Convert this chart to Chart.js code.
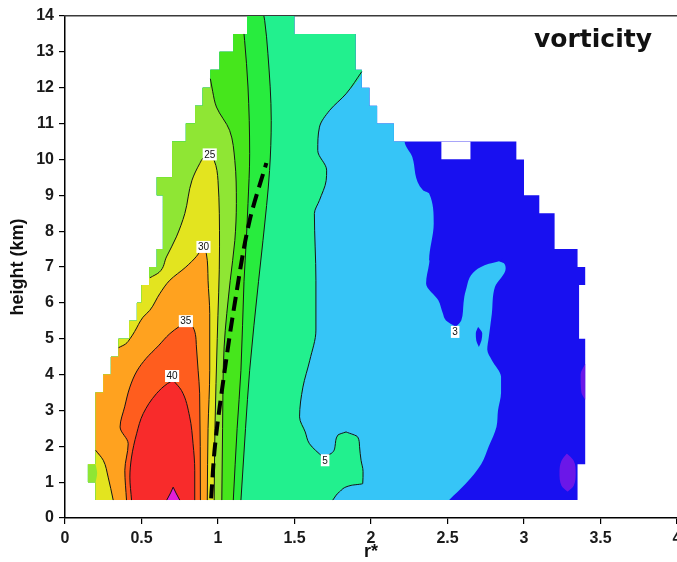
<!DOCTYPE html>
<html>
<head>
<meta charset="utf-8">
<title>vorticity</title>
<script src="https://cdn.jsdelivr.net/npm/chart.js@4.4.1/dist/chart.umd.min.js"></script>
<style>
  html, body { margin: 0; padding: 0; background: #fff; }
  #box { position: relative; width: 677px; height: 562px; }
</style>
</head>
<body>
<div id="box"><canvas id="vortChart"></canvas></div>
<script>
// every boundary below is a list of [height (km), r*] pairs

// stepped outline of the data domain
const edgeLeft = [
  [0.5, 0.20], [1.0, 0.20], [1.0, 0.15], [1.5, 0.15], [1.5, 0.20], [3.5, 0.20], [3.5, 0.25],
  [4.0, 0.25], [4.0, 0.30], [4.5, 0.30], [4.5, 0.35], [5.0, 0.35], [5.0, 0.42], [5.5, 0.42],
  [5.5, 0.47], [6.0, 0.47], [6.0, 0.50], [6.5, 0.50], [6.5, 0.55], [7.0, 0.55], [7.0, 0.60],
  [7.5, 0.60], [7.5, 0.64], [9.0, 0.64], [9.0, 0.60], [9.5, 0.60], [9.5, 0.70], [10.5, 0.70],
  [10.5, 0.79], [11.0, 0.79], [11.0, 0.85], [11.5, 0.85], [11.5, 0.90], [12.0, 0.90], [12.0, 0.95],
  [12.5, 0.95], [12.5, 1.01], [13.0, 1.01], [13.0, 1.10], [13.5, 1.10], [13.5, 1.19], [14.0, 1.19]
];
const edgeRight = [
  [0.5, 3.35], [1.5, 3.35], [1.5, 3.40], [5.0, 3.40], [5.0, 3.36], [6.5, 3.36], [6.5, 3.40],
  [7.0, 3.40], [7.0, 3.35], [7.5, 3.35], [7.5, 3.20], [8.5, 3.20], [8.5, 3.10], [9.0, 3.10],
  [9.0, 3.00], [10.0, 3.00], [10.0, 2.95], [10.5, 2.95], [10.5, 2.15], [11.0, 2.15], [11.0, 2.04],
  [11.5, 2.04], [11.5, 1.99], [12.0, 1.99], [12.0, 1.94], [12.5, 1.94], [12.5, 1.90], [13.5, 1.90],
  [13.5, 1.50], [14.0, 1.50]
];
const notchLeft = [[10.0, 2.46], [10.5, 2.46]];
const notchRight = [[10.0, 2.65], [10.5, 2.65]];

// below 1: purple spots at the outer edge
const c1SpotLeft = [[0.73, 3.285], [0.9, 3.245], [1.27, 3.232], [1.6, 3.245], [1.8, 3.28]];
const c1SpotRight = [[0.73, 3.285], [0.9, 3.325], [1.27, 3.338], [1.6, 3.325], [1.8, 3.28]];
const c1StripLeft = [[3.3, 3.40], [3.5, 3.375], [4.0, 3.37], [4.3, 3.40]];
const c1StripRight = [[3.3, 3.40], [4.3, 3.40]];

// 3 contour (drawn without a line)
const c3Low = [
  [0.5, 2.51], [0.96, 2.62], [1.5, 2.72], [2.0, 2.77], [2.54, 2.82], [3.0, 2.83], [3.5, 2.85],
  [3.93, 2.85], [4.4, 2.79], [4.7, 2.76], [5.05, 2.77], [5.7, 2.79], [6.44, 2.81], [6.95, 2.88],
  [7.1, 2.87], [7.18, 2.83]
];
const c3Up = [[7.18, 2.38], [8.21, 2.41], [9.05, 2.38], [9.14, 2.34], [10.07, 2.27], [10.5, 2.22]];
const c3BayLeft = [[5.33, 2.555], [5.51, 2.49], [5.7, 2.47], [6.07, 2.44], [6.54, 2.36], [7.09, 2.38], [7.25, 2.385]];
const c3BayRight = [[5.33, 2.555], [5.51, 2.59], [6.0, 2.605], [6.35, 2.62], [6.91, 2.685], [7.09, 2.77], [7.17, 2.84], [7.25, 2.86]];
const c3IsleLeft = [[4.77, 2.705], [4.95, 2.688], [5.15, 2.685], [5.33, 2.70]];
const c3IsleRight = [[4.77, 2.705], [4.95, 2.722], [5.15, 2.727], [5.33, 2.70]];

// 5 contour
const c5Main = [
  [1.7, 1.685], [2.07, 1.598], [2.4, 1.57], [2.82, 1.533], [3.65, 1.555], [4.4, 1.60], [5.24, 1.64],
  [6.63, 1.64], [8.49, 1.63], [8.86, 1.663], [9.41, 1.707], [9.7, 1.71], [10.25, 1.652], [10.9, 1.663],
  [11.37, 1.73], [11.83, 1.837], [12.45, 1.94]
];
const c5Tongue = [
  [0.5, 1.75], [0.73, 1.794], [0.91, 1.87], [0.96, 1.946], [1.3, 1.948], [1.61, 1.935], [2.0, 1.925],
  [2.26, 1.913], [2.4, 1.837]
];
const c5Lobe = [[1.7, 1.685], [1.8, 1.74], [2.0, 1.765], [2.31, 1.783], [2.4, 1.837]];

// 10, 15, 20 contours
const c10 = [[0.5, 1.15], [2.5, 1.18], [4.12, 1.207], [6.6, 1.265], [7.74, 1.294], [9.69, 1.337], [11.09, 1.348], [12.96, 1.326], [13.88, 1.305], [14.0, 1.30]];
const c15 = [[0.5, 1.10], [2.5, 1.125], [4.12, 1.15], [6.6, 1.17], [7.74, 1.185], [8.77, 1.196], [10.16, 1.207], [12.02, 1.196], [13.32, 1.174], [13.5, 1.17]];
const c20 = [[0.5, 1.025], [2.5, 1.03], [4.77, 1.04], [6.63, 1.08], [7.74, 1.11], [8.77, 1.12], [9.97, 1.11], [10.81, 1.076], [11.46, 0.99], [11.9, 0.965], [12.25, 0.95]];
const c20PatchLeft = [[1.0, 0.15], [1.5, 0.15]];
const c20PatchRight = [[1.0, 0.20], [1.25, 0.21], [1.5, 0.20]];

// 25, 30, 35, 40, 45 contours
const c25Left = [[6.7, 0.555], [6.85, 0.615], [7.28, 0.663], [7.84, 0.728], [8.49, 0.783], [9.42, 0.83], [9.88, 0.88], [10.05, 0.905], [10.15, 0.935]];
const c25Right = [[0.5, 0.975], [2.5, 0.98], [5.0, 0.995], [7.56, 1.01], [9.41, 1.0], [9.97, 0.975], [10.1, 0.955], [10.15, 0.935]];
const c30LowLeft = [[0.5, 0.315], [1.14, 0.282], [1.61, 0.25], [1.89, 0.20]];
const c30UpLeft = [[4.75, 0.35], [4.85, 0.395], [5.0, 0.425], [5.2, 0.455], [5.6, 0.51], [5.79, 0.554], [6.26, 0.62], [6.63, 0.685], [7.0, 0.79], [7.3, 0.86], [7.56, 0.90]];
const c30Right = [[0.5, 0.93], [2.5, 0.935], [4.12, 0.946], [5.7, 0.946], [6.63, 0.935], [7.37, 0.924], [7.56, 0.90]];
const c35Left = [[0.5, 0.402], [1.33, 0.391], [2.07, 0.413], [2.54, 0.36], [3.1, 0.39], [3.65, 0.424], [4.1, 0.47], [4.45, 0.53], [4.8, 0.61], [5.14, 0.685], [5.35, 0.75], [5.45, 0.79]];
const c35Right = [[0.5, 0.885], [3.48, 0.88], [4.12, 0.87], [4.77, 0.859], [5.32, 0.837], [5.45, 0.79]];
const c40Left = [[0.5, 0.435], [1.14, 0.424], [1.7, 0.435], [2.35, 0.468], [2.91, 0.511], [3.47, 0.598], [3.75, 0.67], [3.84, 0.707]];
const c40Right = [[0.5, 0.848], [1.33, 0.848], [2.07, 0.837], [2.82, 0.815], [3.56, 0.761], [3.84, 0.707]];
const c45Left = [[0.5, 0.665], [0.7, 0.69], [0.86, 0.707]];
const c45Right = [[0.5, 0.75], [0.7, 0.725], [0.86, 0.707]];

// thick dashed line
const dashLine = [[0.55, 0.955], [2.0, 0.98], [4.12, 1.044], [6.0, 1.11], [8.3, 1.207], [9.9, 1.316]];

// contour labels
const labelText = ['25', '30', '35', '40', '5', '3'];
const labelZ = [10.14, 7.56, 5.49, 3.96, 1.61, 5.19];
const labelR = [0.946, 0.905, 0.79, 0.70, 1.70, 2.55];

const colors = {
  purple: '#6b17e8', blue: '#1810f0', lightBlue: '#36c5f7', mint: '#22f08e',
  green10: '#28ec3e', green15: '#46e61c', green20: '#8fe634', yellow: '#e3e41f',
  orange: '#ffa21f', orangeRed: '#ff5d1e', red: '#f82b2b', magenta: '#e21fd8'
};

function edgeUpTo(edge, zTop) {
  const out = edge.filter(p => p[0] <= zTop);
  const last = out[out.length - 1];
  if (last[0] < zTop) out.push([zTop, last[1]]);
  return out;
}
function edgeBetween(edge, z0, z1) {
  return edge.filter(p => p[0] >= z0 && p[0] <= z1);
}
function xy(list) {
  return list.map(p => ({ x: p[1], y: p[0] }));
}

const datasets = [];
let layer = 0;
// filled band between a right and a left boundary, painted in call order
function area(right, left, color) {
  const order = 1000 - layer++;
  datasets.push({ data: xy(left), fill: false, borderWidth: 0, order: order });
  datasets.push({ data: xy(right), fill: datasets.length - 1, backgroundColor: color, borderWidth: 0, order: order });
}
function contour(list) {
  datasets.push({ data: xy(list), fill: false, borderColor: '#151515', borderWidth: 1, order: 20 });
}

area(edgeRight, edgeLeft, colors.blue);
area(notchRight, notchLeft, '#ffffff');
area(c1SpotRight, c1SpotLeft, colors.purple);
area(c1StripRight, c1StripLeft, colors.purple);
area(c3Low.concat(c3Up, edgeBetween(edgeRight, 10.5, 12.5)), edgeUpTo(edgeLeft, 12.5), colors.lightBlue);
area(c3BayRight, c3BayLeft, colors.blue);
area(c3IsleRight, c3IsleLeft, colors.blue);
area(c5Tongue.concat(c5Main.filter(p => p[0] >= 2.4), edgeBetween(edgeRight, 12.46, 14)), edgeLeft, colors.mint);
area(c5Lobe, c5Main.filter(p => p[0] <= 2.4), colors.lightBlue);
area(c10, edgeLeft, colors.green10);
area(c15, edgeUpTo(edgeLeft, 13.5), colors.green15);
area(c20, edgeUpTo(edgeLeft, 12.25), colors.green20);
area(c25Right, edgeUpTo(edgeLeft, 6.7).concat(c25Left), colors.yellow);
area(c20PatchRight, c20PatchLeft, colors.green20);
area(c30Right, c30LowLeft.concat(edgeBetween(edgeLeft, 1.9, 4.74), c30UpLeft), colors.orange);
area(c35Right, c35Left, colors.orangeRed);
area(c40Right, c40Left, colors.red);
area(c45Right, c45Left, colors.magenta);

[c5Main, c5Tongue, c5Lobe, c10, c15, c20, c25Left, c25Right, c30LowLeft, c30UpLeft, c30Right,
 c35Left, c35Right, c40Left, c40Right, c45Left, c45Right].forEach(contour);

datasets.push({ data: xy(dashLine), fill: false, borderColor: '#000', borderWidth: 4, borderDash: [14, 7], order: 5 });

const contourLabels = {
  id: 'contourLabels',
  afterDatasetsDraw(chart) {
    const { ctx, scales: { x, y } } = chart;
    ctx.save();
    ctx.font = '10px "Liberation Sans", Arial, sans-serif';
    ctx.textAlign = 'center';
    ctx.textBaseline = 'middle';
    labelText.forEach((t, i) => {
      const px = x.getPixelForValue(labelR[i]);
      const py = y.getPixelForValue(labelZ[i]);
      const w = ctx.measureText(t).width + 3;
      ctx.fillStyle = '#fff';
      ctx.fillRect(px - w / 2, py - 6, w, 12);
      ctx.fillStyle = '#111';
      ctx.fillText(t, px, py + 0.5);
    });
    ctx.restore();
  }
};

const panelTitle = {
  id: 'panelTitle',
  afterDraw(chart) {
    const { ctx, chartArea } = chart;
    ctx.save();
    ctx.font = 'bold 25px "DejaVu Sans", sans-serif';
    ctx.fillStyle = '#111';
    ctx.textAlign = 'right';
    ctx.textBaseline = 'alphabetic';
    ctx.fillText('vorticity', chartArea.right - 25, chartArea.top + 31);
    ctx.restore();
  }
};

Chart.defaults.font.family = '"Liberation Sans", Arial, sans-serif';

new Chart(document.getElementById('vortChart').getContext('2d'), {
  type: 'line',
  data: { datasets: datasets },
  options: {
    responsive: true,
    maintainAspectRatio: false,
    animation: false,
    events: [],
    indexAxis: 'y',
    layout: { padding: { top: 16, right: 0, bottom: 0, left: 0 } },
    elements: {
      point: { radius: 0, hoverRadius: 0 },
      line: { cubicInterpolationMode: 'monotone' }
    },
    plugins: { legend: { display: false }, tooltip: { enabled: false } },
    scales: {
      x: {
        type: 'linear', position: 'bottom', min: 0, max: 4,
        ticks: {
          stepSize: 0.5, autoSkip: false, maxRotation: 0, padding: 5, color: '#1a1a1a',
          font: { size: 16, weight: 'bold' },
          callback: v => String(v)
        },
        grid: { drawOnChartArea: false, tickLength: 6, color: '#000', lineWidth: 1.2 },
        border: { color: '#000', width: 1.5 },
        title: { display: true, text: 'r*', color: '#111', font: { size: 18, weight: 'bold' }, padding: { top: 0, bottom: -1 } },
        afterFit(s) { s.height = 44; s.paddingLeft = 0; s.paddingRight = 0; }
      },
      y: {
        type: 'linear', position: 'left', min: 0, max: 14,
        ticks: { stepSize: 1, autoSkip: false, padding: 5, color: '#1a1a1a', font: { size: 16, weight: 'bold' } },
        grid: { drawOnChartArea: false, tickLength: 6, color: '#000', lineWidth: 1.2 },
        border: { color: '#000', width: 1.5 },
        title: { display: true, text: 'height (km)', color: '#111', font: { size: 18, weight: 'bold' }, padding: { top: 7, bottom: 0 } },
        afterFit(s) { s.width = 65; s.paddingTop = 0; s.paddingBottom = 0; }
      },
      x2: {
        type: 'linear', position: 'top', display: true,
        grid: { display: false, drawTicks: false },
        ticks: { display: false },
        border: { color: '#3a3a3a', width: 1.5 },
        afterFit(s) { s.height = 0; s.paddingLeft = 0; s.paddingRight = 0; }
      },
      y2: {
        type: 'linear', position: 'right', display: true,
        grid: { display: false, drawTicks: false },
        ticks: { display: false },
        border: { color: '#c8c8c8', width: 1 },
        afterFit(s) { s.width = 0; s.paddingTop = 0; s.paddingBottom = 0; }
      }
    }
  },
  plugins: [contourLabels, panelTitle]
});
</script>
</body>
</html>
